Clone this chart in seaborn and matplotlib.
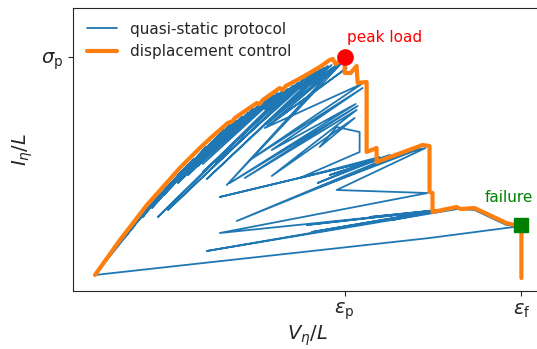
import matplotlib
matplotlib.use("Agg")
import matplotlib.pyplot as plt
import seaborn as sns
import pandas as pd

# quasi-static protocol (load / partial unload cycles)
qs_x = [0.00,
        0.40, 0.30, 0.55, 0.35, 0.62, 0.48, 0.67, 0.42, 0.74, 0.58,
        0.80, 0.50, 0.87, 0.68, 0.93, 0.57, 0.99, 0.80, 1.05, 0.57,
        1.11, 0.90, 1.17, 0.72, 1.23, 1.00, 1.29, 0.69, 1.35, 1.12,
        1.41, 0.86, 1.47, 1.20, 1.53, 0.83, 1.58, 1.33, 1.63, 1.03,
        1.68, 1.45, 1.73, 0.93, 1.78, 1.50, 1.83, 1.08, 1.88, 1.62,
        1.93, 0.63, 1.98, 1.70, 2.03, 1.08, 2.08, 1.80, 2.13, 0.73,
        2.17, 1.90, 2.21, 1.21, 2.25, 1.98, 2.29, 1.12, 2.33, 2.05,
        2.37, 1.72, 2.41, 2.15, 2.43, 1.32, 2.48, 1.73,
        2.52, 1.70, 2.67, 1.55, 2.68, 1.77, 2.61, 1.35, 2.63, 1.50,
        2.62, 1.77, 2.60, 2.25, 2.42, 2.65, 2.65, 2.05, 2.85, 2.23,
        2.95, 2.35, 3.05, 1.42, 3.15, 2.25, 3.25, 1.25, 3.31, 2.42,
        3.33, 1.25, 3.39, 2.12, 3.43, 2.75, 3.47, 2.17, 3.51, 2.97,
        3.55, 1.12, 3.63, 3.80, 4.12, 4.27, 3.35, 0.00]
qs_y = [0.00,
        0.50, 0.38, 0.68, 0.45, 0.76, 0.58, 0.82, 0.55, 0.90, 0.70,
        0.96, 0.63, 1.04, 0.82, 1.10, 0.70, 1.16, 0.95, 1.21, 0.67,
        1.28, 1.04, 1.33, 0.86, 1.39, 1.14, 1.45, 0.80, 1.50, 1.26,
        1.54, 0.98, 1.58, 1.33, 1.62, 0.92, 1.66, 1.42, 1.69, 1.09,
        1.72, 1.50, 1.76, 1.00, 1.79, 1.54, 1.82, 1.11, 1.84, 1.62,
        1.86, 0.58, 1.89, 1.66, 1.92, 1.03, 1.95, 1.72, 1.98, 0.65,
        2.01, 1.78, 2.03, 1.12, 2.05, 1.84, 2.07, 0.96, 2.09, 1.87,
        2.10, 1.51, 2.09, 1.90, 2.11, 0.90, 2.13, 1.49,
        2.07, 1.47, 1.91, 1.15, 1.87, 1.25, 1.71, 0.92, 1.69, 0.97,
        1.65, 0.99, 1.57, 1.28, 1.48, 1.43, 1.23, 0.97, 1.18, 0.92,
        1.20, 1.00, 1.22, 0.54, 1.24, 0.88, 1.26, 0.78, 1.27, 0.85,
        0.82, 0.42, 0.64, 0.50, 0.65, 0.58, 0.65, 0.43, 0.66, 0.55,
        0.66, 0.24, 0.66, 0.65, 0.50, 0.49, 0.37, 0.00]

# displacement control
dc_x = [0.00, 0.25, 0.52, 0.85, 1.05, 1.18, 1.33, 1.38, 1.40, 1.62, 1.65,
        1.68, 1.85, 1.88, 1.91, 2.08, 2.25, 2.35, 2.38, 2.41, 2.45, 2.50,
        2.50, 2.56, 2.62, 2.63, 2.72, 2.72, 2.82, 2.82, 3.28, 3.35, 3.35,
        3.38, 3.38, 3.62, 3.66, 3.80, 4.12, 4.20, 4.27, 4.27]
dc_y = [0.00, 0.35, 0.70, 1.07, 1.27, 1.39, 1.52, 1.54, 1.57, 1.72, 1.71,
        1.75, 1.87, 1.85, 1.89, 1.98, 2.08, 2.15, 2.16, 2.11, 2.14, 2.18,
        2.02, 2.02, 2.09, 1.92, 1.93, 1.23, 1.27, 1.13, 1.30, 1.29, 0.83,
        0.82, 0.63, 0.68, 0.66, 0.67, 0.52, 0.50, 0.50, -0.03]

eps_p, sig_p, eps_f = 2.50, 2.18, 4.27
peak_x, peak_y = 2.50, 2.18
fail_x, fail_y = 4.27, 0.50

sns.set_style("ticks")
plt.rcParams['font.family'] = ['DejaVu Sans']
plt.rcParams['mathtext.fontset'] = 'dejavusans'

fig = plt.figure(figsize=(5.37, 3.49), dpi=100)
ax = fig.add_axes([73/537, 1-291/349, 1.01-73/537, (291-8)/349])

df_qs = pd.DataFrame({"x": qs_x, "y": qs_y})
df_dc = pd.DataFrame({"x": dc_x, "y": dc_y})
sns.lineplot(data=df_qs, x="x", y="y", sort=False, estimator=None,
             color="#1f77b4", lw=1.3, ax=ax, label="quasi-static protocol")
sns.lineplot(data=df_dc, x="x", y="y", sort=False, estimator=None,
             color="#ff7f0e", lw=3, ax=ax, label="displacement control")

ax.plot([peak_x], [peak_y], 'o', color='red', ms=11, zorder=5)
ax.plot([fail_x], [fail_y], 's', color='green', ms=10, zorder=5)
ax.text(2.895, 2.30, "peak load", color='red', fontsize=11, ha='center', va='bottom')
ax.text(4.14, 0.70, "failure", color='green', fontsize=11, ha='center', va='bottom')

ax.set_xlim(-0.22, 4.48)
ax.set_ylim(-0.16, 2.67)
ax.set_xticks([eps_p, eps_f])
ax.set_xticklabels([r"$\varepsilon_{\mathrm{p}}$", r"$\varepsilon_{\mathrm{f}}$"], fontsize=14)
ax.set_yticks([sig_p])
ax.set_yticklabels([r"$\sigma_{\mathrm{p}}$"], fontsize=14)
ax.set_xlabel(r"$V_\eta/L$", fontsize=14, labelpad=1)
ax.set_ylabel(r"$I_\eta/L$", fontsize=14)
ax.legend(loc='upper left', frameon=False, fontsize=11)

fig.savefig("out.png", dpi=100)
